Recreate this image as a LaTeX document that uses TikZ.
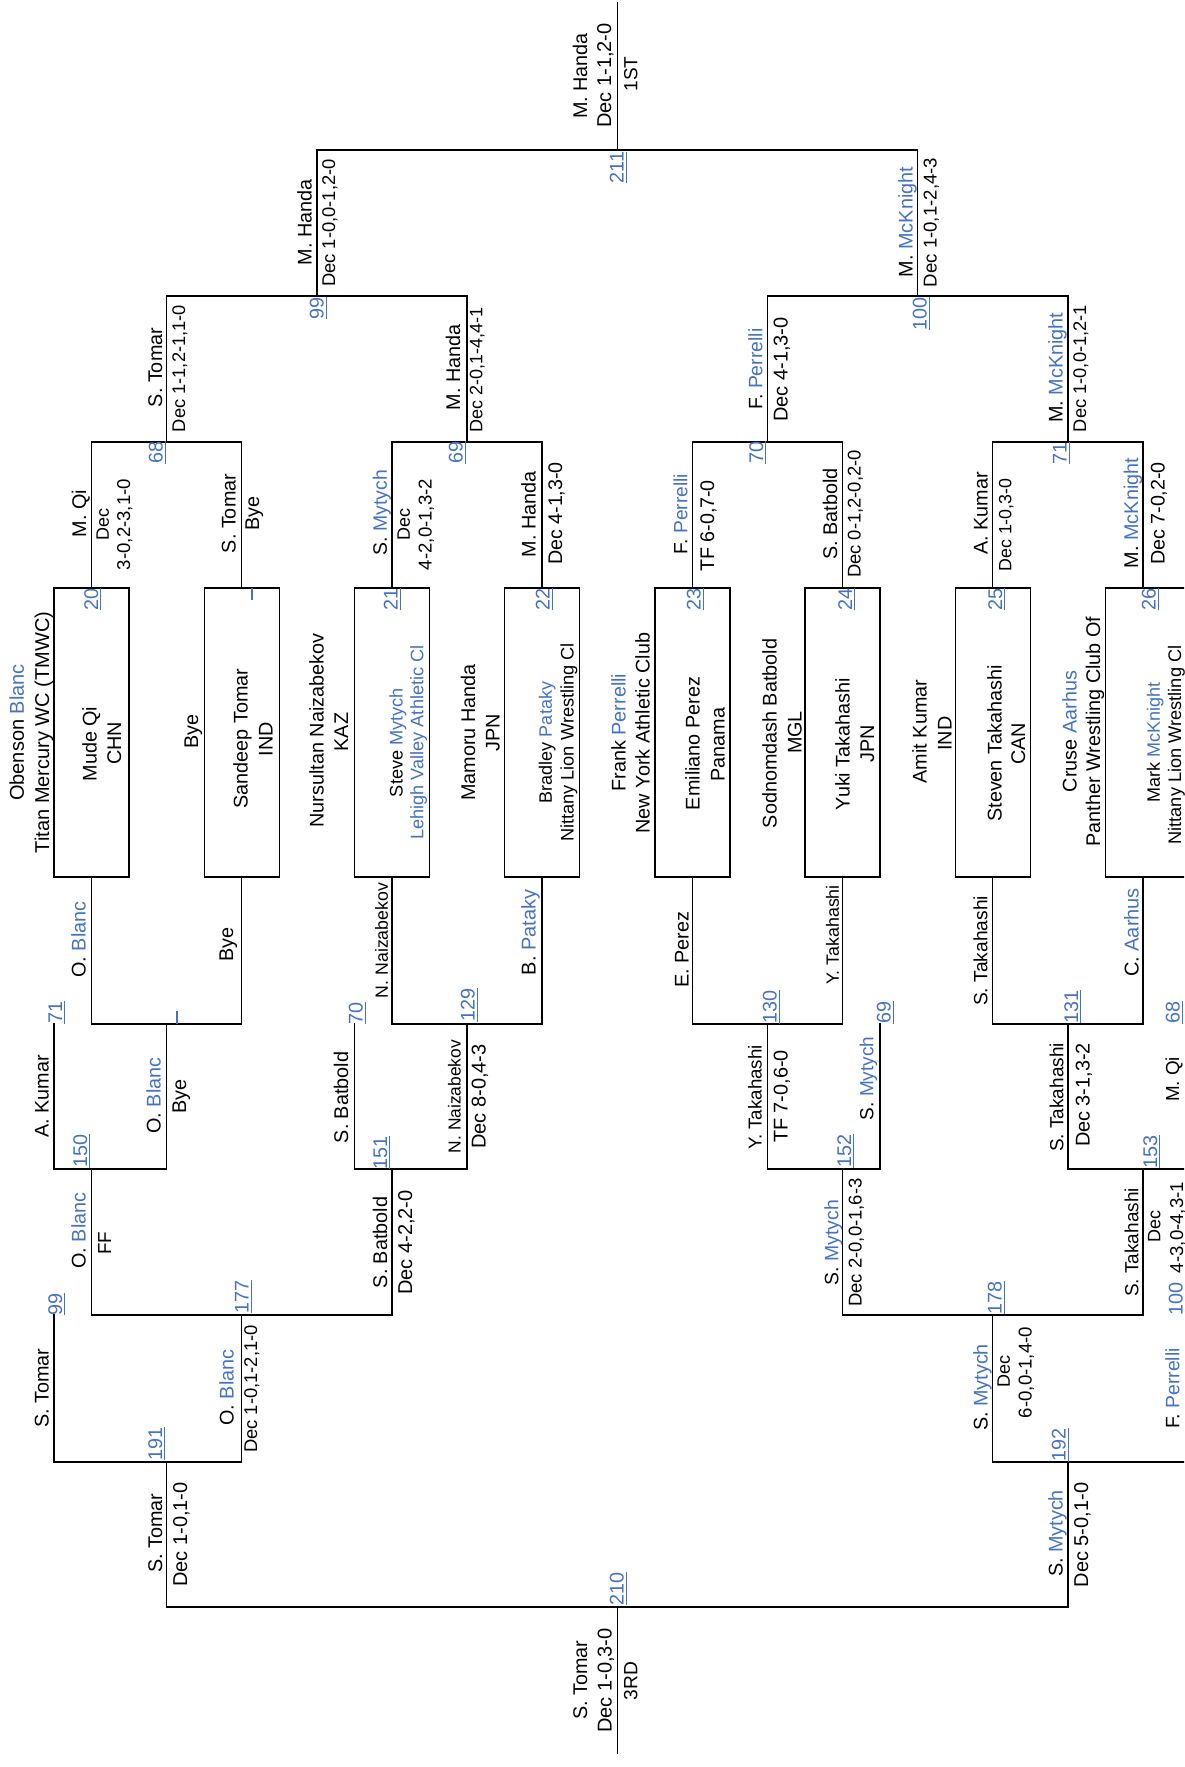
\documentclass[tikz,border=0pt]{standalone}
\usepackage{fontspec}
\setmainfont{Liberation Sans}
\definecolor{lk}{RGB}{68,114,196}
\newcommand\B[1]{\textcolor{lk}{#1}}
\newcounter{lbl}
\newcommand\tx[4][19.8]{\stepcounter{lbl}\edef\curnm{t\number\value{lbl}}%
  \node[txt, font=\fontsize{#1}{#1}\selectfont, text height=#1*0.716pt] (\curnm) at (#2,#3) {#4};}
\newcommand\nm[3]{\stepcounter{lbl}\edef\curnm{t\number\value{lbl}}%
  \node[txt, text=lk, font=\fontsize{19.8}{19.8}\selectfont, text height=14.2pt] (\curnm) at (#1,#2) {#3};%
  \draw[lk, line width=1pt] ([xshift=2.5pt]\curnm.south west) -- ([xshift=2.5pt]\curnm.south east);}
\begin{document}
\begin{tikzpicture}[x=1pt,y=-1pt,
  br/.style={line width=1.4pt, line cap=rect, line join=miter},
  bx/.style={draw, rectangle, line width=1.4pt, minimum width=75.1pt, minimum height=289pt, inner sep=0pt},
  txt/.style={rotate=90, inner sep=0pt, text depth=0pt, anchor=center},
  tick/.style={lk, line width=1.2pt}]
\useasboundingbox (0,0) rectangle (1184,1767);
\clip (0,0) rectangle (1184,1767);
\fill[white] (0,0) rectangle (1184,1767);

% ---------- boxes ----------
\node[bx] (b20) at (91.55,732.5) {};
\node[bx] (b2)  at (241.75,732.5) {};
\node[bx] (b21) at (391.95,732.5) {};
\node[bx] (b22) at (542.15,732.5) {};
\node[bx] (b23) at (692.35,732.5) {};
\node[bx] (b24) at (842.55,732.5) {};
\node[bx] (b25) at (992.75,732.5) {};
% last box runs past the right edge of the sheet
\draw[br] (1105.4,588) rectangle (1190,877);
\coordinate (b26n) at (1142.95,588);
\coordinate (b26s) at (1142.95,877);

% ---------- championship bracket ----------
\draw[br] (617.25,3) -- (617.25,150);
\draw[br] (316.85,296) -- (316.85,150) -- (917.65,150) -- (917.65,296);
\draw[br] (166.65,442) -- (166.65,296) -- (467.05,296) -- (467.05,442);
\draw[br] (767.45,442) -- (767.45,296) -- (1067.85,296) -- (1067.85,442);
\draw[br] (b20.north) -- (91.55,442) -- (241.75,442) -- (b2.north);
\draw[br] (b21.north) -- (391.95,442) -- (542.15,442) -- (b22.north);
\draw[br] (b23.north) -- (692.35,442) -- (842.55,442) -- (b24.north);
\draw[br] (b25.north) -- (992.75,442) -- (1142.95,442) -- (b26n);

% ---------- consolation bracket ----------
\draw[br] (b20.south) -- (91.55,1024) -- (241.75,1024) -- (b2.south);
\draw[br] (b21.south) -- (391.95,1024) -- (542.15,1024) -- (b22.south);
\draw[br] (b23.south) -- (692.35,1024) -- (842.55,1024) -- (b24.south);
\draw[br] (b25.south) -- (992.75,1024) -- (1142.95,1024) -- (b26s);
\draw[br] (54,1024) -- (54,1169) -- (166.65,1169) -- (166.65,1024);
\draw[br] (354.4,1024) -- (354.4,1169) -- (467.05,1169) -- (467.05,1024);
\draw[br] (767.45,1024) -- (767.45,1169) -- (880.1,1169) -- (880.1,1024);
\draw[br] (1067.85,1024) -- (1067.85,1169) -- (1190,1169);
\draw[br] (91.55,1169) -- (91.55,1315) -- (391.95,1315) -- (391.95,1169);
\draw[br] (842.55,1169) -- (842.55,1315) -- (1142.95,1315) -- (1142.95,1169);
\draw[br] (241.75,1315) -- (241.75,1462);
\draw[br] (54,1315) -- (54,1462) -- (241.75,1462);
\draw[br] (992.75,1315) -- (992.75,1462) -- (1190,1462);
\draw[br] (166.65,1462) -- (166.65,1607) -- (1067.85,1607) -- (1067.85,1462);
\draw[br] (617.25,1607) -- (617.25,1753);

% empty underlined marks
\draw[tick] (252,588) -- (252,600);
\draw[tick] (177,1011) -- (177,1024);

% ---------- championship texts ----------
\tx{580}{76}{M. Handa}
\tx[20]{604}{75.5}{Dec 1-1,2-0}
\tx[19]{630.5}{74}{1ST}
\nm{616.5}{167.5}{211}
\tx{304.5}{222.5}{M. Handa}
\tx[18.4]{328.5}{223}{Dec 1-0,0-1,2-0}
\nm{316.5}{308}{99}
\tx{905.5}{222}{M. \B{McKnight}}
\tx[18.6]{930}{222.5}{Dec 1-0,1-2,4-3}
\nm{919.5}{313.5}{100}
\tx{155}{367.5}{S. Tomar}
\tx[18.3]{178.5}{368.5}{Dec 1-1,2-1,1-0}
\nm{155.5}{452.5}{68}
\tx{453}{367.5}{M. Handa}
\tx[18]{476}{369.5}{Dec 2-0,1-4,4-1}
\nm{455.5}{452.5}{69}
\tx[19.4]{755.5}{369}{F. \B{Perrelli}}
\tx[20]{780.5}{369.5}{Dec 4-1,3-0}
\nm{756}{452.5}{70}
\tx{1055.5}{367.5}{M. \B{McKnight}}
\tx[18.3]{1079.5}{368.5}{Dec 1-0,0-1,2-1}
\nm{1059.5}{453}{71}

\tx{79}{513.5}{M. Qi}
\tx[18]{102.5}{524}{Dec}
\tx[18.6]{123.5}{524.5}{3-0,2-3,1-0}
\nm{91}{599}{20}
\tx{228.5}{513.5}{S. Tomar}
\tx{252}{513.5}{Bye}
\tx[19.4]{380}{512.5}{S. \B{Mytych}}
\tx[18]{403.5}{524}{Dec}
\tx[18.6]{425}{524.5}{4-2,0-1,3-2}
\nm{390.5}{599}{21}
\tx{528.5}{514.5}{M. Handa}
\tx[19.7]{555}{513.5}{Dec 4-1,3-0}
\nm{542.5}{599}{22}
\tx[19.2]{680.5}{514}{F. \B{Perrelli}}
\tx[19.7]{707}{526}{TF 6-0,7-0}
\nm{693.5}{599}{23}
\tx{830}{514}{S. Batbold}
\tx[18.4]{854}{514}{Dec 0-1,2-0,2-0}
\nm{845}{599}{24}
\tx{980.5}{513.5}{A. Kumar}
\tx[17.8]{1005}{525}{Dec 1-0,3-0}
\nm{995}{599}{25}
\tx{1131}{513}{M. \B{McKnight}}
\tx[19.7]{1157.5}{513.5}{Dec 7-0,2-0}
\nm{1148.5}{599}{26}

% ---------- entries ----------
\tx[20]{16.8}{732.5}{Obenson \B{Blanc}}
\tx[20]{42}{732.5}{Titan Mercury WC (TMWC)}
\tx{89.5}{744}{Mude Qi}
\tx{114}{743.5}{CHN}
\tx{191}{731.5}{Bye}
\tx{240.5}{738.5}{Sandeep Tomar}
\tx{265.5}{739}{IND}
\tx{316.5}{730.5}{Nursultan Naizabekov}
\tx{341}{732}{KAZ}
\tx[18.2]{396}{742.5}{Steve \B{Mytych}}
\tx[18.1]{417}{742.5}{\B{Lehigh Valley Athletic Cl}}
\tx{468}{732.5}{Mamoru Handa}
\tx{492.5}{732.5}{JPN}
\tx[18]{545.5}{742.5}{Bradley \B{Pataky}}
\tx[18.2]{567}{742.5}{Nittany Lion Wrestling Cl}
\tx{618.5}{732.5}{Frank \B{Perrelli}}
\tx{642.5}{733}{New York Athletic Club}
\tx{692.5}{743.5}{Emiliano Perez}
\tx{717.5}{744.5}{Panama}
\tx{769.5}{733.5}{Sodnomdash Batbold}
\tx{794.5}{732.5}{MGL}
\tx{842.5}{744}{Yuki Takahashi}
\tx{867}{744}{JPN}
\tx{919.5}{731.5}{Amit Kumar}
\tx{944.5}{733.5}{IND}
\tx{994.5}{743.5}{Steven Takahashi}
\tx{1018}{744}{CAN}
\tx{1069.5}{731.5}{Cruse \B{Aarhus}}
\tx{1093}{731.5}{Panther Wrestling Club Of}
\tx[18]{1153.5}{742.5}{Mark \B{McKnight}}
\tx[18.2]{1174.5}{745}{Nittany Lion Wrestling Cl}

% ---------- consolation texts ----------
\tx{78.5}{939.5}{O. \B{Blanc}}
\tx{226}{944.5}{Bye}
\tx[17.7]{381.5}{940.5}{N. Naizabekov}
\tx[20]{528.5}{932.5}{B. \B{Pataky}}
\tx{681.5}{950}{E. Perez}
\tx[17.8]{832.5}{935}{Y. Takahashi}
\tx[19.2]{980.5}{951}{S. Takahashi}
\tx[20]{1131.5}{932.5}{C. \B{Aarhus}}
\nm{55}{1012.5}{71}
\nm{355.5}{1013}{70}
\nm{467.5}{1005}{129}
\nm{769.5}{1007}{130}
\nm{883.5}{1012.5}{69}
\nm{1071}{1006.5}{131}
\nm{1172.5}{1012.5}{68}
\tx{41.5}{1096.5}{A. Kumar}
\tx{153.5}{1095.5}{O. \B{Blanc}}
\tx{179}{1096.5}{Bye}
\tx{341}{1097.5}{S. Batbold}
\tx[17.4]{454.5}{1096.5}{N. Naizabekov}
\tx[20]{478.5}{1096.5}{Dec 8-0,4-3}
\tx[18.7]{755}{1097.5}{Y. Takahashi}
\tx[19.9]{780.5}{1096.5}{TF 7-0,6-0}
\tx[19]{866.5}{1078.5}{S. \B{Mytych}}
\tx[19]{1056.5}{1097.5}{S. Takahashi}
\tx[19.9]{1082.5}{1095}{Dec 3-1,3-2}
\tx[18.8]{1172.5}{1079.5}{M. Qi}
\nm{80}{1151}{150}
\nm{380}{1152.5}{151}
\nm{844}{1151}{152}
\nm{1150}{1151.5}{153}
\tx{78.5}{1230.5}{O. \B{Blanc}}
\tx[18.8]{104.5}{1243.5}{FF}
\tx{380}{1242.5}{S. Batbold}
\tx[20]{405}{1242.5}{Dec 4-2,2-0}
\tx[19.4]{831.5}{1242.5}{S. \B{Mytych}}
\tx[18.5]{855}{1242.5}{Dec 2-0,0-1,6-3}
\tx[19]{1131.5}{1242.5}{S. Takahashi}
\tx[18]{1154}{1226}{Dec}
\tx[18.6]{1176.5}{1227.5}{4-3,0-4,3-1}
\nm{55}{1304}{99}
\nm{241.5}{1296.5}{177}
\nm{994.5}{1297.5}{178}
\nm{1175.5}{1299}{100}
\tx{41.5}{1388}{S. Tomar}
\tx{226.5}{1387.5}{O. \B{Blanc}}
\tx[18.4]{250.5}{1389}{Dec 1-0,1-2,1-0}
\tx{980.5}{1387.5}{S. \B{Mytych}}
\tx[18]{1003.5}{1371.5}{Dec}
\tx[18.6]{1025}{1372.5}{6-0,0-1,4-0}
\tx[19.4]{1172.5}{1388.5}{F. \B{Perrelli}}
\nm{155}{1443.5}{191}
\nm{1058.5}{1445}{192}
\tx{155}{1533}{S. Tomar}
\tx[20]{180}{1534.5}{Dec 1-0,1-0}
\tx{1055.5}{1533.5}{S. \B{Mytych}}
\tx[20]{1081}{1535}{Dec 5-0,1-0}
\nm{616.5}{1588.5}{210}
\tx{580}{1680}{S. Tomar}
\tx[20]{604.5}{1680.5}{Dec 1-0,3-0}
\tx[19.2]{630.5}{1681}{3RD}
\end{tikzpicture}
\end{document}
